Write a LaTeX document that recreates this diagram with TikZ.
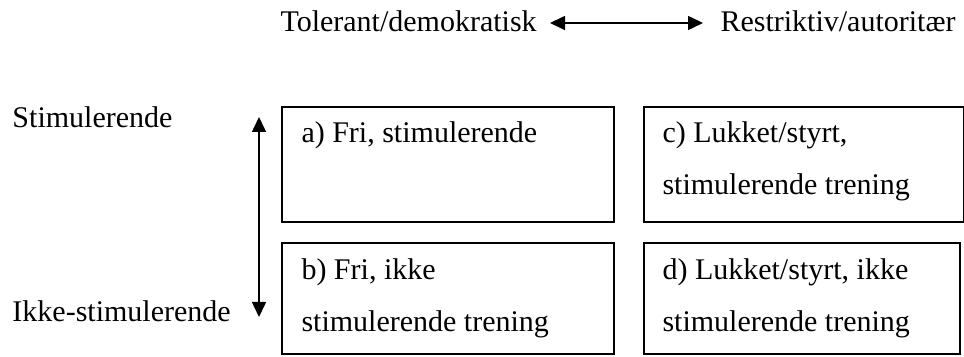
\documentclass[tikz,border=0pt]{standalone}
\usepackage{fontspec}
\setmainfont{Liberation Serif}
\usetikzlibrary{arrows.meta}
\begin{document}
\begin{tikzpicture}[x=0.4pt,y=0.4pt]
    \tikzset{
      txt/.style={anchor=base west, inner sep=0pt, font=\fontsize{12}{14}\selectfont},
      box/.style={draw=black, line width=0.7pt, anchor=north west, inner sep=0pt},
      axis/.style={line width=0.6pt, {Triangle[width=5.6pt,length=6pt]}-{Triangle[width=5.6pt,length=6pt]}}
    }
    \useasboundingbox (0,0) rectangle (964,-357);
    % top axis
    \node [txt] (tol) at (280,-32) {Tolerant/demokratisk};
    \node [txt] (res) at (720,-32) {Restriktiv/autoritær};
    \coordinate (tolend) at (550,-23);
    \coordinate (resend) at (703,-23);
    \draw [axis] (tolend) -- (resend);
    % left axis
    \node [txt] (stim) at (12,-128) {Stimulerende};
    \node [txt] (ikke) at (12,-322) {Ikke-stimulerende};
    \coordinate (stimend) at (259,-117);
    \coordinate (ikkeend) at (259,-317);
    \draw [axis] (stimend) -- (ikkeend);
    % boxes
    \node [box, minimum width=132.8pt, minimum height=46pt] (a) at (281,-106) {};
    \node [box, minimum width=128pt, minimum height=46pt] (c) at (643,-106) {};
    \node [box, minimum width=132.8pt, minimum height=44.4pt] (b) at (281,-242) {};
    \node [box, minimum width=126.4pt, minimum height=44.4pt] (d) at (643,-242) {};
    \node [txt] (a1) at (301,-143) {a) Fri, stimulerende};
    \node [txt] (c1) at (662,-143) {c) Lukket/styrt,};
    \node [txt] (c2) at (662,-195) {stimulerende trening};
    \node [txt] (b1) at (301,-280) {b) Fri, ikke};
    \node [txt] (b2) at (301,-332) {stimulerende trening};
    \node [txt] (d1) at (662,-280) {d) Lukket/styrt, ikke};
    \node [txt] (d2) at (662,-332) {stimulerende trening};
\end{tikzpicture}
\end{document}
